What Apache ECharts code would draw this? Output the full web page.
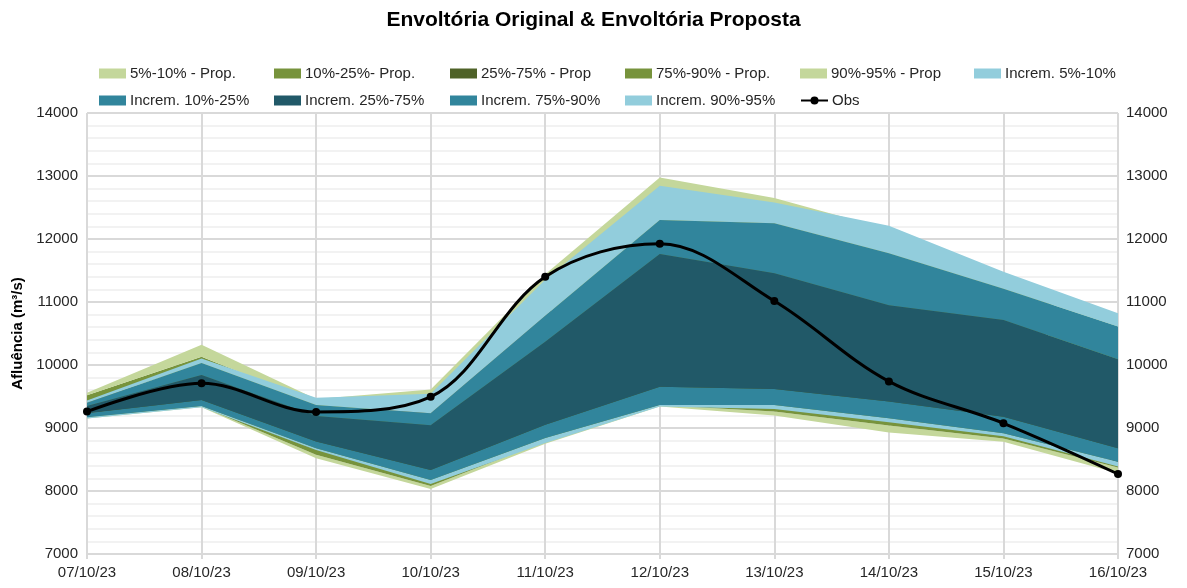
<html lang='pt'>

<head>
    <meta charset='UTF-8'>
    <title>Envoltória Original & Envoltória Proposta</title>
    <style>
        html, body {
            margin: 0;
            padding: 0;
            background: #ffffff;
        }

        #chart {
            width: 1187px;
            height: 588px;
        }
    </style>
</head>

<body>
    <div id='chart'></div>
</body>
<script src='https://cdn.jsdelivr.net/npm/echarts@6/dist/echarts.min.js'></script>
<script>
    // datas e valores
    var dates = ['07/10/23', '08/10/23', '09/10/23', '10/10/23', '11/10/23', '12/10/23', '13/10/23', '14/10/23', '15/10/23', '16/10/23'];
    var yTicks = [7000, 8000, 9000, 10000, 11000, 12000, 13000, 14000];

    var obs = [9260, 9710, 9255, 9495, 11400, 11925, 11015, 9740, 9075, 8270];

    // envoltória proposta (percentis)
    var propP5 = [9150, 9330, 8520, 8030, 8750, 9340, 9200, 8930, 8780, 8280];
    var propP10 = [9170, 9340, 8575, 8080, 8790, 9360, 9260, 9040, 8835, 8375];
    var propP25 = [9230, 9420, 8700, 8200, 9000, 9600, 9500, 9300, 9100, 8450];
    var propP75 = [9430, 10000, 9300, 9300, 10800, 12000, 11800, 11500, 10900, 9800];
    var propP90 = [9520, 10130, 9400, 9530, 11300, 12800, 12550, 12050, 11300, 10500];
    var propP95 = [9560, 10320, 9460, 9610, 11440, 12975, 12650, 12150, 11400, 10700];

    // envoltória incremental (percentis)
    var incP5 = [9150, 9330, 8650, 8110, 8760, 9340, 9300, 9090, 8870, 8390];
    var incP10 = [9170, 9350, 8680, 8175, 8840, 9365, 9365, 9155, 8915, 8465];
    var incP25 = [9235, 9445, 8785, 8335, 9050, 9655, 9620, 9420, 9180, 8680];
    var incP75 = [9350, 9840, 9190, 9045, 10370, 11760, 11455, 10950, 10715, 10090];
    var incP90 = [9400, 10030, 9365, 9235, 10780, 12300, 12250, 11775, 11210, 10610];
    var incP95 = [9435, 10105, 9480, 9545, 11355, 12845, 12580, 12210, 11480, 10820];

    var propNames = ['5%-10% - Prop.', '10%-25%- Prop.', '25%-75% - Prop', '75%-90% - Prop.', '90%-95% - Prop'];
    var incNames = ['Increm. 5%-10%', 'Increm. 10%-25%', 'Increm. 25%-75%', 'Increm. 75%-90%', 'Increm. 90%-95%'];
    var propColors = ['#C4D79B', '#77933C', '#4F6228', '#77933C', '#C4D79B'];
    var incColors = ['#92CDDC', '#31859C', '#215968', '#31859C', '#92CDDC'];

    function diff(a, b) {
        return a.map(function (v, i) { return v - b[i]; });
    }

    function bandSeries(stack, base, levels, names, colors) {
        var list = [{
            name: stack + '-base',
            type: 'line',
            stack: stack,
            data: base,
            symbol: 'none',
            lineStyle: { width: 0, opacity: 0 },
            silent: true
        }];
        for (var i = 0; i < names.length; i++) {
            list.push({
                name: names[i],
                type: 'line',
                stack: stack,
                data: diff(levels[i + 1], levels[i]),
                symbol: 'none',
                lineStyle: { width: 0, opacity: 0 },
                itemStyle: { color: colors[i] },
                areaStyle: { color: colors[i], opacity: 1 },
                silent: true
            });
        }
        return list;
    }

    var series = []
        .concat(bandSeries('prop', propP5, [propP5, propP10, propP25, propP75, propP90, propP95], propNames, propColors))
        .concat(bandSeries('inc', incP5, [incP5, incP10, incP25, incP75, incP90, incP95], incNames, incColors));

    series.push({
        name: 'Obs',
        type: 'line',
        data: obs,
        smooth: 0.35,
        symbol: 'circle',
        symbolSize: 8,
        itemStyle: { color: '#000000' },
        lineStyle: { color: '#000000', width: 3 },
        z: 10
    });

    // legenda em colunas fixas, como no original
    var legendItems = propNames.concat(incNames).concat(['Obs']);
    var colX = [94, 269, 445, 620, 795, 969];
    var legends = legendItems.map(function (name, i) {
        var row = i < 6 ? 0 : 1;
        var col = i < 6 ? i : i - 6;
        var leg = {
            data: [name],
            left: colX[col],
            top: row === 0 ? 61 : 88,
            itemWidth: 27,
            itemHeight: 10,
            itemGap: 0,
            textStyle: { fontFamily: 'Liberation Sans, Arial', fontSize: 15, color: '#262626', padding: [0, 0, 0, -1] },
            selectedMode: false
        };
        if (name !== 'Obs') leg.icon = 'rect';
        return leg;
    });

    var axisLabelStyle = { fontFamily: 'Liberation Sans, Arial', fontSize: 15, color: '#262626' };

    var chart = echarts.init(document.getElementById('chart'), null, { renderer: 'canvas' });
    chart.setOption({
        animation: false,
        backgroundColor: '#ffffff',
        title: {
            text: 'Envoltória Original & Envoltória Proposta',
            left: 'center',
            top: 5,
            textStyle: { fontFamily: 'Liberation Sans, Arial', fontSize: 21, fontWeight: 'bold', color: '#000000' }
        },
        legend: legends,
        grid: { left: 87, right: 69, top: 113, bottom: 34 },
        xAxis: {
            type: 'category',
            data: dates,
            boundaryGap: false,
            axisLine: { lineStyle: { color: '#d9d9d9', width: 2 } },
            axisTick: { show: true, length: 5, lineStyle: { color: '#d9d9d9', width: 2 } },
            axisLabel: Object.assign({ margin: 11 }, axisLabelStyle),
            splitLine: { show: true, lineStyle: { color: '#d9d9d9', width: 2 } }
        },
        yAxis: [{
            type: 'value',
            min: yTicks[0],
            max: yTicks[yTicks.length - 1],
            interval: 1000,
            name: 'Afluência (m³/s)',
            nameLocation: 'middle',
            nameGap: 59,
            nameTextStyle: { fontFamily: 'Liberation Sans, Arial', fontSize: 15, fontWeight: 'bold', color: '#000000' },
            axisLine: { show: false },
            axisTick: { show: false },
            axisLabel: Object.assign({ margin: 9, formatter: function (v) { return String(v); } }, axisLabelStyle),
            splitLine: { show: true, lineStyle: { color: '#d9d9d9', width: 2 } },
            minorTick: { show: false, splitNumber: 5 },
            minorSplitLine: { show: true, lineStyle: { color: '#f2f2f2', width: 2 } }
        }, {
            type: 'value',
            position: 'right',
            min: yTicks[0],
            max: yTicks[yTicks.length - 1],
            interval: 1000,
            axisLine: { show: false },
            axisTick: { show: false },
            axisLabel: Object.assign({ margin: 8, formatter: function (v) { return String(v); } }, axisLabelStyle),
            splitLine: { show: false }
        }],
        series: series
    });
</script>

</html>
